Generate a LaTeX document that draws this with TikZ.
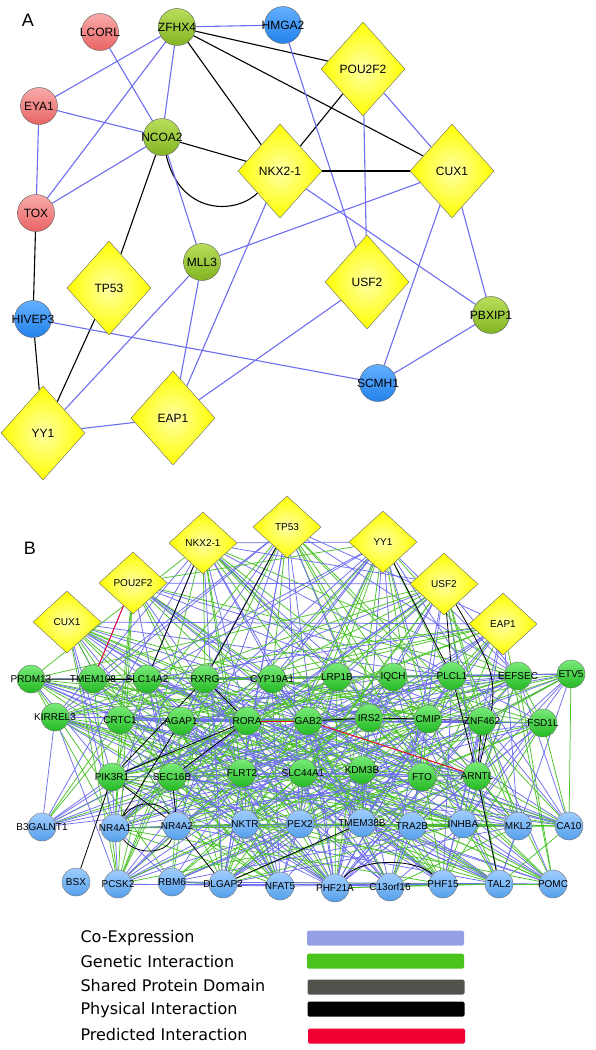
\documentclass[tikz,border=0pt]{standalone}
\usepackage{fontspec}
\setmainfont{Liberation Sans}
\newfontfamily\legfont{DejaVu Sans}
\usetikzlibrary{shapes.geometric}
\pgfdeclarelayer{background}
\pgfsetlayers{background,main}
\newcommand\zb[1]{\makebox[0pt]{#1}}
\definecolor{coex}{RGB}{110,110,240}
\definecolor{genet}{RGB}{75,195,40}
\definecolor{spd}{RGB}{80,84,76}
\definecolor{pred}{RGB}{240,0,50}
\definecolor{legco}{RGB}{150,160,230}
\definecolor{leggen}{RGB}{76,196,30}
\definecolor{ared1}{RGB}{250,170,170}\definecolor{ared2}{RGB}{232,100,100}
\definecolor{agrn1}{RGB}{185,222,90}\definecolor{agrn2}{RGB}{130,180,35}
\definecolor{ablu1}{RGB}{100,175,255}\definecolor{ablu2}{RGB}{35,130,235}
\definecolor{bgrn1}{RGB}{120,235,120}\definecolor{bgrn2}{RGB}{35,185,35}
\definecolor{bblu1}{RGB}{160,205,255}\definecolor{bblu2}{RGB}{85,160,235}
\tikzset{
  acirc/.style={circle, draw=black!65, line width=0.4pt, minimum size=37pt, inner sep=0pt, font=\fontsize{12}{12}\selectfont},
  ared/.style={acirc, top color=ared1, bottom color=ared2},
  agrn/.style={acirc, top color=agrn1, bottom color=agrn2},
  ablu/.style={acirc, top color=ablu1, bottom color=ablu2},
  adiam/.style={diamond, draw=black!60, line width=0.4pt, minimum width=84pt, minimum height=94pt, inner sep=0pt, inner color=yellow!35!white, outer color=yellow, font=\fontsize{12}{12}\selectfont},
  bcirc/.style={circle, draw=black!55, line width=0.4pt, minimum size=28pt, inner sep=0pt, font=\fontsize{10}{10}\selectfont},
  bgrn/.style={bcirc, top color=bgrn1, bottom color=bgrn2},
  bblu/.style={bcirc, top color=bblu1, bottom color=bblu2},
  bdiam/.style={diamond, draw=black!60, line width=0.4pt, minimum width=68pt, minimum height=62pt, inner sep=0pt, inner color=yellow!35!white, outer color=yellow, font=\fontsize{10}{10}\selectfont},
  aco/.style={draw=coex, line width=1.1pt},
  aph/.style={draw=black, line width=1.1pt},
  bco/.style={draw=coex, line width=0.75pt},
  bge/.style={draw=genet, line width=0.75pt},
  bph/.style={draw=black, line width=0.8pt},
  bsp/.style={draw=spd, line width=0.8pt},
  bpr/.style={draw=pred, line width=0.9pt},
  panlab/.style={font=\fontsize{18}{18}\selectfont},
  legtext/.style={anchor=west, font=\legfont\fontsize{16}{16}\selectfont},
  legbar/.style={rounded corners=1.5pt, minimum width=157pt, minimum height=15pt, inner sep=0pt}
}
\begin{document}
\begin{tikzpicture}[x=1pt,y=-1pt]
\useasboundingbox (0,0) rectangle (595,1050);
\begin{pgfonlayer}{background}
\fill[white] (0,0) rectangle (595,1050);
\end{pgfonlayer}
% ---------------- Panel A ----------------
\node[panlab] (labA) at (28,20) {A};
\node[ared] (aLCORL) at (100,32) {\zb{LCORL}};
\node[agrn] (aZFHX4) at (177,27) {\zb{ZFHX4}};
\node[ablu] (aHMGA2) at (283,25) {\zb{HMGA2}};
\node[adiam] (aPOU) at (363,69) {POU2F2};
\node[ared] (aEYA1) at (39,106) {\zb{EYA1}};
\node[agrn] (aNCOA2) at (162,137) {\zb{NCOA2}};
\node[adiam] (aNKX) at (280,171) {NKX2-1};
\node[adiam] (aCUX1) at (452,171) {CUX1};
\node[ared] (aTOX) at (36,213) {\zb{TOX}};
\node[agrn] (aMLL3) at (202,262) {\zb{MLL3}};
\node[adiam] (aTP53) at (109,288) {TP53};
\node[adiam] (aUSF2) at (367,282) {USF2};
\node[ablu] (aHIVEP3) at (33,319) {\zb{HIVEP3}};
\node[agrn] (aPBXIP1) at (491,315) {\zb{PBXIP1}};
\node[ablu] (aSCMH1) at (378,383) {\zb{SCMH1}};
\node[adiam] (aYY1) at (43,433) {YY1};
\node[adiam] (aEAP1) at (173,418) {EAP1};
\begin{pgfonlayer}{background}
\draw[aco] (aZFHX4) -- (aHMGA2);
\draw[aph] (aZFHX4) -- (aPOU);
\draw[aph] (aZFHX4) -- (aNKX);
\draw[aph] (aZFHX4) -- (aCUX1);
\draw[aco] (aZFHX4) -- (aEYA1);
\draw[aco] (aZFHX4) -- (aTOX);
\draw[aco] (aZFHX4) -- (aNCOA2);
\draw[aco] (aLCORL) -- (aNCOA2);
\draw[aco] (aEYA1) -- (aNCOA2);
\draw[aco] (aEYA1) -- (aTOX);
\draw[aco] (aTOX) -- (aNCOA2);
\draw[aph] (aNCOA2) -- (aNKX);
\draw[aph] (aNCOA2) .. controls (180,215) and (235,215) .. (aNKX);
\draw[aph] (aNCOA2) -- (aTP53);
\draw[aco] (aNCOA2) -- (aMLL3);
\draw[aph] (aPOU) -- (aNKX);
\draw[aco] (aPOU) -- (aCUX1);
\draw[aco] (aPOU) -- (aUSF2);
\draw[aco] (aHMGA2) -- (aUSF2);
\draw[aph] (aNKX) -- (aCUX1);
\draw[aco] (aNKX) -- (aEAP1);
\draw[aco] (aNKX) -- (aPBXIP1);
\draw[aco] (aCUX1) -- (aMLL3);
\draw[aco] (aCUX1) -- (aSCMH1);
\draw[aco] (aCUX1) -- (aPBXIP1);
\draw[aco] (aMLL3) -- (aYY1);
\draw[aco] (aMLL3) -- (aEAP1);
\draw[aph] (aTOX) -- (aHIVEP3);
\draw[aph] (aHIVEP3) -- (aYY1);
\draw[aph] (aTP53) -- (aYY1);
\draw[aco] (aHIVEP3) -- (aSCMH1);
\draw[aco] (aYY1) -- (aEAP1);
\draw[aco] (aEAP1) -- (aUSF2);
\draw[aco] (aSCMH1) -- (aPBXIP1);
\end{pgfonlayer}
% ---------------- Panel B ----------------
\node[panlab] (labB) at (30,548) {B};
\node[bdiam] (d1) at (67,622) {CUX1};
\node[bdiam] (d2) at (133,583) {POU2F2};
\node[bdiam] (d3) at (203,543) {NKX2-1};
\node[bdiam] (d4) at (287,527) {TP53};
\node[bdiam] (d5) at (383,542) {YY1};
\node[bdiam] (d6) at (444,584) {USF2};
\node[bdiam] (d7) at (503,624) {EAP1};
\foreach \n/\x/\y/\t in {1/31/679/PRDM13, 2/93/679/TMEM108, 3/147/679/SLC14A2, 4/205/679/RXRG, 5/272/679/CYP19A1, 6/337/677/LRP1B, 7/393/677/IQCH, 8/452/676/PLCL1, 9/518/676/EEFSEC, 10/571/674/ETV5,
  11/55/717/KIRREL3, 12/120/720/CRTC1, 13/181/721/AGAP1, 14/247/721/RORA, 15/308/721/GAB2, 16/369/718/IRS2, 17/428/719/CMIP, 18/482/721/ZNF462, 19/543/723/FSD1L,
  20/112/777/PIK3R1, 21/172/777/SEC16B, 22/242/773/FLRT2, 23/303/773/SLC44A1, 24/362/770/KDM3B, 25/422/777/FTO, 26/477/776/ARNTL}
  \node[bgrn] (c\n) at (\x,\y) {\zb{\t}};
\foreach \n/\x/\y/\t in {27/42/827/B3GALNT1, 28/115/828/NR4A1, 29/177/826/NR4A2, 30/245/824/NKTR, 31/300/824/PEX2, 32/362/823/TMEM38B, 33/412/826/TRA2B, 34/463/824/INHBA, 35/518/826/MKL2, 36/569/826/CA10,
  37/76/882/BSX, 38/118/884/PCSK2, 39/172/882/RBM6, 40/223/884/DLGAP2, 41/280/886/NFAT5, 42/335/888/PHF21A, 43/390/887/C13orf16, 44/443/884/PHF15, 45/499/884/TAL2, 46/553/884/POMC}
  \node[bblu] (c\n) at (\x,\y) {\zb{\t}};
\begin{pgfonlayer}{background}
\foreach \i in {1,...,45}{
  \pgfmathtruncatemacro\s{\i+1}
  \foreach \j in {\s,...,46}{
    \pgfmathtruncatemacro\h{mod(\i*37+\j*53+mod(\i*\j,100)*11,100)}
    \ifnum\i=37 \def\h{99}\fi \ifnum\j=37 \def\h{99}\fi
    \ifnum\h<20 \draw[bco] (c\i) -- (c\j);\else\ifnum\h<39 \draw[bge] (c\i) -- (c\j);\fi\fi
  }
}
\foreach \d in {1,...,7}{
  \foreach \j in {1,...,46}{
    \pgfmathtruncatemacro\h{mod(\d*29+\j*17+\d*\j*7,100)}
    \ifnum\j=37 \def\h{99}\fi
    \ifnum\h<22 \draw[bco] (d\d) -- (c\j);\else\ifnum\h<42 \draw[bge] (d\d) -- (c\j);\fi\fi
  }
}
\draw[bco] (d3) -- (d5); \draw[bco] (d3) -- (d6); \draw[bco] (d2) -- (d6);
\draw[bco] (d1) -- (d7); \draw[bco] (d4) -- (d7); \draw[bge] (d2) -- (d5);
% black physical interactions
\draw[bph] (d3) -- (c3);
\draw[bph] (d4) -- (c4);
\draw[bph] (d5) -- (c8);
\draw[bph] (d6) -- (c8);
\draw[bph] (d6) .. controls (500,680) .. (c26);
\draw[bph] (c8) -- (c26);
\draw[bph] (c26) -- (c45);
\draw[bph] (c18) -- (c26);
\draw[bph] (c1) -- (c3);
\draw[bph] (c4) -- (c14);
\draw[bph] (c4) -- (c20);
\draw[bph] (c13) -- (c28);
\draw[bph] (c14) -- (c20);
\draw[bph] (c14) -- (c21);
\draw[bph] (c20) -- (c37);
\draw[bph] (c20) -- (c29);
\draw[bph] (c21) -- (c29);
\draw[bph] (c29) -- (c40);
\draw[bph] (c28) .. controls (135,855) and (165,855) .. (c29);
\draw[bph] (c28) .. controls (135,800) and (160,800) .. (c29);
\draw[bph] (c42) .. controls (360,858) and (415,858) .. (c44);
\draw[bph] (c15) -- (c16);
\draw[bph] (c16) -- (c17);
\draw[bph] (c32) -- (c40);
\draw[bsp] (c1) -- (c2);
\draw[bsp] (c17) -- (c18);
% predicted
\draw[bpr] (d2) -- (c2);
\draw[bpr] (c15) -- (c26);
\draw[bpr] (c14) -- (c15);
\end{pgfonlayer}
% ---------------- Legend ----------------
\node[legtext] (t1) at (77,938) {Co-Expression};
\node[legtext] (t2) at (77,962) {Genetic Interaction};
\node[legtext] (t3) at (77,986) {Shared Protein Domain};
\node[legtext] (t4) at (77,1010) {Physical Interaction};
\node[legtext] (t5) at (77,1035) {Predicted Interaction};
\node[legbar, fill=legco] (l1) at (385.5,938) {};
\node[legbar, fill=leggen] (l2) at (385.5,961) {};
\node[legbar, fill=spd] (l3) at (386,987) {};
\node[legbar, fill=black] (l4) at (386,1009) {};
\node[legbar, fill=pred] (l5) at (386.5,1036) {};
\end{tikzpicture}
\end{document}
